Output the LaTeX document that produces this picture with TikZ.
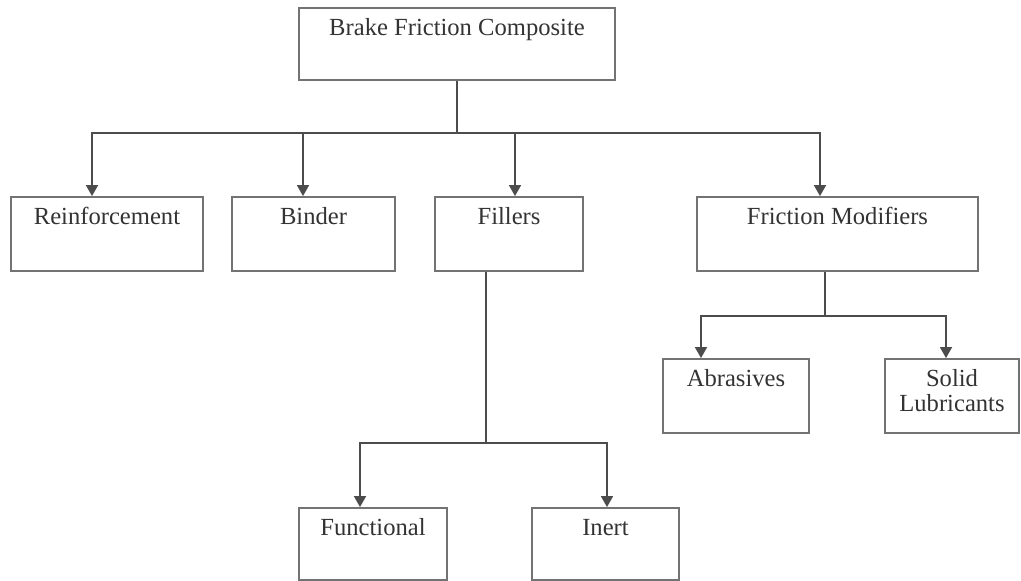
\documentclass[tikz,border=0pt]{standalone}
\usepackage{fontspec}
\setmainfont{Liberation Serif}
\usetikzlibrary{arrows.meta}

\begin{document}
\begin{tikzpicture}[x=0.5pt, y=-0.5pt,
		blk/.style={draw=black!55, line width=0.9pt, text=black!80, inner sep=0pt,
			font=\fontsize{12.3}{12.5}\selectfont, align=center,
			text height=14pt, text depth=23pt},
		ln/.style={draw=black!70, line width=0.8pt},
		arr/.style={ln, -{Triangle[width=6pt, length=5.5pt]}}]
		\useasboundingbox (0,0) rectangle (1021,581);

		\node [blk, minimum width=158pt, text depth=22pt] (top) at (457,44) {Brake Friction Composite};
		\node [blk, minimum width=96pt]   (reinf)  at (107,234)   {Reinforcement};
		\node [blk, minimum width=81.5pt] (binder) at (313.5,234) {Binder};
		\node [blk, minimum width=74pt]   (fill)   at (509,234)   {Fillers};
		\node [blk, minimum width=140.5pt] (fmod)  at (837.5,234) {Friction Modifiers};
		\node [blk, minimum width=73pt]   (abr)    at (736,396)   {Abrasives};
		\node [blk, minimum width=67pt, text height=26.5pt, text depth=10.5pt] (solid) at (952,396) {Solid\\Lubricants};
		\node [blk, minimum width=74pt, text depth=22pt] (func)  at (373,544) {Functional};
		\node [blk, minimum width=73.5pt, text depth=22pt] (inert) at (605.5,544) {Inert};

		\coordinate (j1) at (457,133);
		\coordinate (j2) at (486,443);
		\coordinate (j3) at (825,316);

		\draw[ln] (top.south) -- (j1);
		\draw[arr] (j1) -| ([xshift=-7.5pt]reinf.north);
		\draw[arr] (j1) -| ([xshift=-5.25pt]binder.north);
		\draw[arr] (j1) -| ([xshift=3pt]fill.north);
		\draw[arr] (j1) -| ([xshift=-8.75pt]fmod.north);

		\draw[ln] ([xshift=-11.5pt]fill.south) -- (j2);
		\draw[arr] (j2) -| ([xshift=-6.5pt]func.north);
		\draw[arr] (j2) -| ([xshift=0.75pt]inert.north);

		\draw[ln] ([xshift=-6.25pt]fmod.south) -- (j3);
		\draw[arr] (j3) -| ([xshift=-17.5pt]abr.north);
		\draw[arr] (j3) -| ([xshift=-3pt]solid.north);
	\end{tikzpicture}
\end{document}
